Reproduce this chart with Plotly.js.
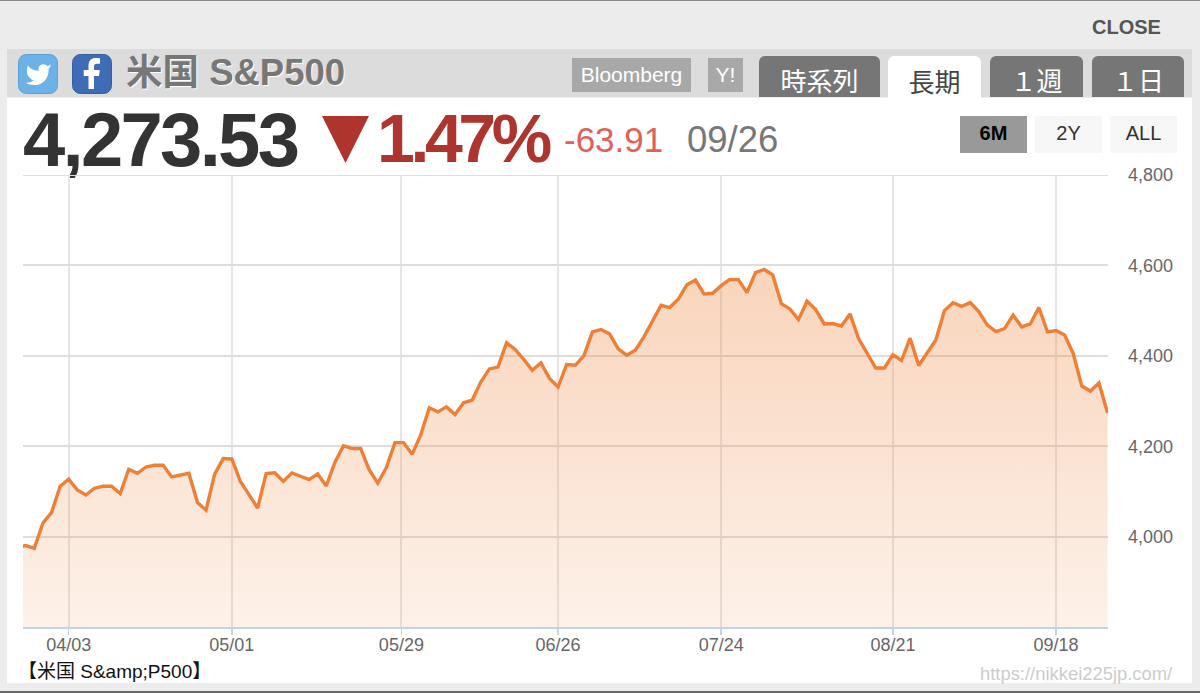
<!DOCTYPE html>
<html lang="ja">
<head>
<meta charset="utf-8">
<script src="https://cdn.plot.ly/plotly-3.0.1.min.js"></script>
<style>
html,body{margin:0;padding:0;width:1200px;height:693px;overflow:hidden;background:#ececec;font-family:"Liberation Sans","Noto Sans CJK JP",sans-serif}
.a{position:absolute;white-space:nowrap}
.c{display:flex;align-items:center;justify-content:center}
.tab{top:56px;height:41px;background:#767676;color:#fff;font-size:26px;border-radius:6px 6px 0 0;font-family:"Noto Sans CJK JP",sans-serif;box-sizing:border-box;padding-top:6px}
.src{top:58px;height:34px;background:#a8a8a8;color:#fff;font-size:21px}
.rng{top:116px;height:37px;background:#f7f7f7;color:#333;font-size:20px;box-sizing:border-box;padding-bottom:3px}
#chart{position:absolute;left:0;top:0;width:1200px;height:693px}
</style>
</head>
<body>
<div class="a" style="left:0;top:0;width:1200px;height:1px;background:#8a8a8a"></div>
<div class="a" style="left:0;top:691px;width:1200px;height:2px;background:#666"></div>
<div class="a" style="left:1092px;top:15px;font-size:20px;font-weight:bold;color:#555;line-height:24px">CLOSE</div>
<div class="a" style="left:7px;top:98px;width:1185px;height:585px;background:#fff"></div>
<div class="a" style="left:7px;top:49px;width:1185px;height:48px;background:#dcdcdc"></div>

<svg class="a" style="left:18px;top:54px" width="40" height="40" viewBox="0 0 40 40">
<rect x="0.5" y="0.5" width="39" height="39" rx="8" fill="#6cb2e6" stroke="#5a9fd2"/>
<path transform="translate(6.5,7) scale(1.15)" fill="#fff" d="M23 3a10.9 10.9 0 0 1-3 1.4 4.5 4.5 0 0 0-7.9 3v1A10.7 10.7 0 0 1 3 4s-4 9 5 13a11.6 11.6 0 0 1-7 2c9 5 20 0 20-11.5a4.5 4.5 0 0 0-.1-.8A7.7 7.7 0 0 0 23 3z"/>
</svg>
<svg class="a" style="left:72px;top:54px" width="40" height="40" viewBox="0 0 40 40">
<rect x="0.5" y="0.5" width="39" height="39" rx="8" fill="#3f6db5" stroke="#35609f"/>
<path fill="#fff" d="M22 35V22h5l.8-6H22v-3.4c0-1.7.6-2.8 3-2.8h3V4.4c-.6-.1-2.3-.3-4.300-.3-4.300 0-7.200 2.600-7.200 7.400V16h-4.800v6h4.800v13z"/>
</svg>

<div class="a" style="left:126px;top:50px;font-size:36.500px;font-weight:bold;color:#777;line-height:46px;text-shadow:1px 1px 0 #fff">米国 S&amp;P500</div>

<div class="a c src" style="left:572px;width:119px">Bloomberg</div>
<div class="a c src" style="left:708px;width:35px">Y!</div>
<div class="a c tab" style="left:759px;width:121px">時系列</div>
<div class="a c tab" style="left:888px;width:93px;background:#fff;color:#444;height:42px">長期</div>
<div class="a c tab" style="left:990px;width:93px">１週</div>
<div class="a c tab" style="left:1092px;width:92px">１日</div>

<div class="a" style="left:23px;top:96px;font-size:76px;font-weight:bold;color:#333;letter-spacing:-2.700px;line-height:88px">4,273.53</div>
<svg class="a" style="left:322px;top:116px" width="47" height="47"><path d="M0 0H47L23.500 47z" fill="#ae342e"/></svg>
<div class="a" style="left:377px;top:98px;font-size:68px;font-weight:bold;color:#ae342e;letter-spacing:-4.400px;line-height:80px">1.47%</div>
<div class="a" style="left:564px;top:120px;font-size:35px;color:#e0605a;line-height:40px">-63.91</div>
<div class="a" style="left:687px;top:120px;font-size:36.500px;color:#777;line-height:40px">09/26</div>

<div class="a c rng" style="left:960px;width:67px;background:#999;color:#000;font-weight:bold">6M</div>
<div class="a c rng" style="left:1035px;width:67px">2Y</div>
<div class="a c rng" style="left:1110px;width:67px">ALL</div>

<div id="chart"></div>

<div class="a" style="left:18px;top:661px;font-size:19px;color:#111;line-height:22px;font-family:'Liberation Sans','Noto Sans CJK JP',sans-serif">【米国 S&amp;amp;P500】</div>
<div class="a" style="left:980px;top:663px;font-size:18.400px;color:#ccc;line-height:22px">https://nikkei225jp.com/</div>

<script>
const dates = ["03/24","03/27","03/28","03/29","03/30","03/31",
"04/03","04/04","04/05","04/06","04/10","04/11","04/12","04/13","04/14","04/17","04/18","04/19","04/20","04/21","04/24","04/25","04/26","04/27","04/28",
"05/01","05/02","05/03","05/04","05/05","05/08","05/09","05/10","05/11","05/12","05/15","05/16","05/17","05/18","05/19","05/22","05/23","05/24","05/25","05/26","05/30","05/31",
"06/01","06/02","06/05","06/06","06/07","06/08","06/09","06/12","06/13","06/14","06/15","06/16","06/20","06/21","06/22","06/23","06/26","06/27","06/28","06/29","06/30",
"07/03","07/05","07/06","07/07","07/10","07/11","07/12","07/13","07/14","07/17","07/18","07/19","07/20","07/21","07/24","07/25","07/26","07/27","07/28","07/31",
"08/01","08/02","08/03","08/04","08/07","08/08","08/09","08/10","08/11","08/14","08/15","08/16","08/17","08/18","08/21","08/22","08/23","08/24","08/25","08/28","08/29","08/30","08/31",
"09/01","09/05","09/06","09/07","09/08","09/11","09/12","09/13","09/14","09/15","09/18","09/19","09/20","09/21","09/22","09/25","09/26"];

const closes = [3975,3980,3974,4030,4053,4111,
4127,4103,4092,4107,4111.5,4111.5,4095,4149,4140,4154,4158,4158,4132,4136,4140,4075.5,4058.5,4138,4172.6,
4171.8,4122,4093,4063,4139.5,4141,4122,4141,4133.6,4126,4139,4112,4164,4201,4195,4195,4148,4118,4153,4208,4208,4182,
4225,4285,4276,4287,4270,4296,4302,4342,4371,4375,4428.6,4414,4392,4368,4384.5,4350,4331,4380.8,4379,4400,4453,
4458,4448.5,4415.4,4401.4,4412.5,4442,4476.5,4511.8,4506.7,4525,4557.4,4567.7,4536.8,4538.3,4555.2,4569,4568.5,4539.8,4584,4591,
4579,4515.5,4503.7,4480,4520.7,4502.3,4470.6,4471.4,4466,4492.7,4438,4405,4373,4373,4402,4389.6,4439,4378.6,4408,4435,4500,4517.6,4509.5,
4517.6,4497.8,4468,4453.6,4460,4490,4464,4470.5,4507,4453,4456,4446,4405,4333,4322,4340,4273.53];

const xTickLabels = ["04/03","05/01","05/29","06/26","07/24","08/21","09/18"];
const yTicks = [4000,4200,4400,4600,4800];

const idx = dates.map((_, i) => i);
// 05/29 had no session: its tick falls between 05/26 and 05/30 on the ordinal axis.
const xTickPos = xTickLabels.map(l => l === "05/29" ? dates.indexOf("05/26") + 0.75 : dates.indexOf(l));

Plotly.newPlot("chart", [{
  x: idx, y: closes, customdata: dates, type: "scatter", mode: "lines",
  line: {color: "#ed8036", width: 3.4, shape: "linear"},
  fill: "tozeroy",
  fillcolor: "rgba(237,128,54,0.2)",
  fillgradient: {type: "vertical", start: 4600, stop: 3800,
    colorscale: [[0, "rgba(237,128,54,0.34)"], [1, "rgba(237,128,54,0.11)"]]},
  hovertemplate: "%{customdata}: %{y:,.2f}<extra></extra>"
}], {
  width: 1200, height: 693,
  paper_bgcolor: "rgba(0,0,0,0)", plot_bgcolor: "rgba(0,0,0,0)",
  margin: {l: 23, r: 92, t: 175, b: 65.5, pad: 0},
  showlegend: false,
  font: {family: "Liberation Sans, sans-serif", size: 18, color: "#666"},
  shapes: [{type: "line", layer: "below", xref: "paper", x0: 0, x1: 1, yref: "y", y0: yTicks[4], y1: yTicks[4],
            line: {color: "#dedede", width: 2}}],
  xaxis: {
    type: "linear", range: [0.68, 127.05], tickmode: "array",
    tickvals: xTickPos, ticktext: xTickLabels,
    showgrid: true, gridcolor: "#e6e6e6", gridwidth: 2,
    showline: true, linecolor: "#c3d2e4", linewidth: 2,
    ticks: "outside", ticklen: 6, tickcolor: "#c3d2e4", tickwidth: 1.5,
    zeroline: false, ticklabelstandoff: -6, tickfont: {size: 18, color: "#666"}
  },
  yaxis: {
    type: "linear", range: [3800, 4800], side: "right", tickmode: "array",
    tickvals: yTicks, tickformat: ",d",
    showgrid: true, gridcolor: "#dedede", gridwidth: 2,
    showline: false, ticks: "", zeroline: false,
    ticklabelstandoff: 19, tickfont: {size: 18, color: "#666"}
  }
}, {staticPlot: true, displayModeBar: false});
</script>
</body>
</html>
